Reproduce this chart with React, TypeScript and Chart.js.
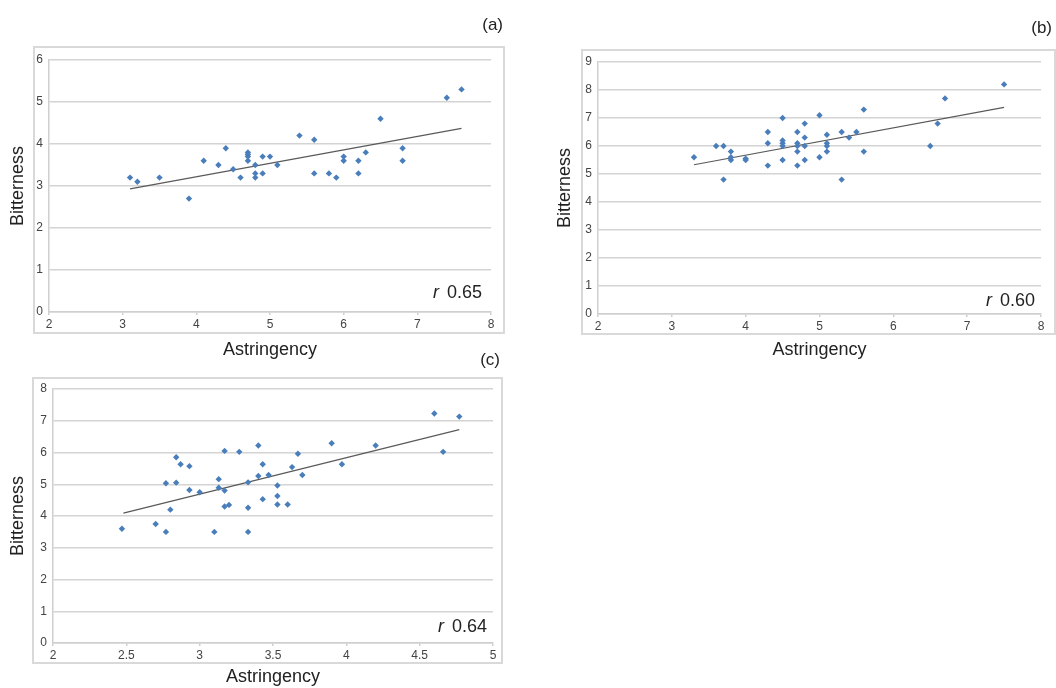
import React, { useEffect, useRef } from "react";
import { Chart, registerables } from "chart.js";

Chart.register(...registerables);

// ---------- Panel (a) ----------
const aAstringency = [3.1, 3.2, 3.5, 3.9, 4.1, 4.3, 4.4, 4.5, 4.6, 4.7, 4.7, 4.7, 4.7, 4.8, 4.8, 4.8, 4.9, 4.9, 5.0, 5.1, 5.4, 5.6, 5.6, 5.8, 5.9, 6.0, 6.0, 6.2, 6.2, 6.3, 6.5, 6.8, 6.8, 7.4, 7.6];
const aBitterness = [3.2, 3.1, 3.2, 2.7, 3.6, 3.5, 3.9, 3.4, 3.2, 3.8, 3.75, 3.7, 3.6, 3.5, 3.3, 3.2, 3.7, 3.3, 3.7, 3.5, 4.2, 4.1, 3.3, 3.3, 3.2, 3.7, 3.6, 3.6, 3.3, 3.8, 4.6, 3.9, 3.6, 5.1, 5.3];
const aTrendX = [3.1, 7.6];
const aTrendY = [2.93, 4.37];

// ---------- Panel (b) ----------
const bAstringency = [3.3, 3.6, 3.7, 3.7, 3.8, 3.8, 3.8, 4.0, 4.0, 4.3, 4.3, 4.3, 4.5, 4.5, 4.5, 4.5, 4.5, 4.7, 4.7, 4.7, 4.7, 4.7, 4.8, 4.8, 4.8, 4.8, 5.0, 5.0, 5.1, 5.1, 5.1, 5.1, 5.3, 5.3, 5.4, 5.5, 5.6, 5.6, 6.5, 6.6, 6.7, 7.5];
const bBitterness = [5.6, 6.0, 6.0, 4.8, 5.8, 5.6, 5.5, 5.5, 5.55, 6.5, 6.1, 5.3, 7.0, 6.2, 6.1, 6.0, 5.5, 6.5, 6.1, 6.0, 5.8, 5.3, 6.8, 6.3, 6.0, 5.5, 7.1, 5.6, 6.4, 6.1, 6.0, 5.8, 6.5, 4.8, 6.3, 6.5, 7.3, 5.8, 6.0, 6.8, 7.7, 8.2];
const bTrendX = [3.3, 7.5];
const bTrendY = [5.33, 7.38];

// ---------- Panel (c) ----------
const cAstringency = [2.47, 2.7, 2.77, 2.77, 2.8, 2.84, 2.84, 2.87, 2.93, 2.93, 3.0, 3.1, 3.13, 3.13, 3.17, 3.17, 3.17, 3.2, 3.27, 3.33, 3.33, 3.33, 3.4, 3.4, 3.43, 3.43, 3.47, 3.53, 3.53, 3.53, 3.6, 3.63, 3.67, 3.7, 3.9, 3.97, 4.2, 4.6, 4.66, 4.77];
const cBitterness = [3.6, 3.75, 3.5, 5.03, 4.2, 5.85, 5.05, 5.63, 5.57, 4.82, 4.75, 3.5, 5.16, 4.89, 6.05, 4.8, 4.3, 4.35, 6.02, 5.06, 4.26, 3.5, 6.22, 5.26, 5.63, 4.53, 5.29, 4.96, 4.63, 4.36, 4.36, 5.54, 5.96, 5.29, 6.29, 5.63, 6.22, 7.23, 6.02, 7.13];
const cTrendX = [2.48, 4.77];
const cTrendY = [4.09, 6.72];

const FONT = '"Liberation Sans", Arial, Helvetica, sans-serif';
const POINT_COLOR = "#4a7ebb";

type PanelProps = {
  left: number; top: number; width: number; height: number;
  xs: number[]; ys: number[]; tx: number[]; ty: number[];
  xMin: number; xMax: number; xStep: number;
  yMin: number; yMax: number; yStep: number;
  yW: number; xH: number; padTop: number; padRight: number;
  yTitlePad: number; xTitlePad: number;
  box: [number, number, number, number];
  tag: string; tagX: number; tagY: number;
  rText: string; rX: number; rY: number;
};

const fmt = (v: any) => String(Math.round(Number(v) * 100) / 100);

function Panel(p: PanelProps) {
  const ref = useRef<HTMLCanvasElement>(null);
  useEffect(() => {
    if (!ref.current) return;
    const deco = {
      id: "deco",
      beforeDraw(chart: any) {
        const ctx = chart.ctx;
        ctx.save();
        ctx.strokeStyle = "#d9d9d9";
        ctx.lineWidth = 2;
        ctx.strokeRect(p.box[0], p.box[1], p.box[2], p.box[3]);
        ctx.restore();
      },
      afterDraw(chart: any) {
        const ctx = chart.ctx;
        ctx.save();
        ctx.fillStyle = "#222";
        ctx.textBaseline = "middle";
        ctx.textAlign = "right";
        ctx.font = `17px ${FONT}`;
        ctx.fillText(p.tag, p.tagX, p.tagY);
        ctx.font = `18px ${FONT}`;
        ctx.fillText(p.rText, p.rX, p.rY);
        const w = ctx.measureText(p.rText).width;
        ctx.font = `italic 18px ${FONT}`;
        ctx.fillText("r", p.rX - w - 8, p.rY);
        ctx.restore();
      },
    };
    const chart = new Chart(ref.current, {
      type: "scatter",
      data: {
        datasets: [
          {
            label: "data",
            data: p.xs.map((x, i) => ({ x, y: p.ys[i] })),
            backgroundColor: POINT_COLOR,
            borderColor: POINT_COLOR,
            pointStyle: "rectRot",
            pointRadius: 3.2,
            borderWidth: 0,
          },
          {
            label: "trend",
            data: p.tx.map((x, i) => ({ x, y: p.ty[i] })),
            showLine: true,
            borderColor: "#5a5a5a",
            borderWidth: 1.2,
            pointRadius: 0,
          },
        ],
      },
      options: {
        animation: false,
        responsive: false,
        maintainAspectRatio: false,
        layout: { padding: { top: p.padTop, right: p.padRight, left: 0, bottom: 0 } },
        plugins: { legend: { display: false }, tooltip: { enabled: false } },
        scales: {
          x: {
            type: "linear",
            min: p.xMin,
            max: p.xMax,
            ticks: { stepSize: p.xStep, color: "#444", font: { family: FONT, size: 12 }, padding: 2, maxRotation: 0, callback: fmt },
            grid: { display: true, drawOnChartArea: false, drawTicks: true, tickLength: 3, color: "#cfcfcf", lineWidth: 1.5 },
            border: { display: true, color: "#cfcfcf", width: 1.5 },
            title: { display: true, text: "Astringency", color: "#222", font: { family: FONT, size: 18 }, padding: { top: 0, bottom: p.xTitlePad } },
            afterFit: (s: any) => { s.height = p.xH; },
          },
          y: {
            type: "linear",
            min: p.yMin,
            max: p.yMax,
            ticks: { stepSize: p.yStep, color: "#444", font: { family: FONT, size: 12 }, padding: 6, callback: fmt },
            grid: { display: true, drawOnChartArea: true, drawTicks: false, color: "#d4d4d4", lineWidth: 1.5 },
            border: { display: true, color: "#cfcfcf", width: 1.5 },
            title: { display: true, text: "Bitterness", color: "#222", font: { family: FONT, size: 18 }, padding: { top: p.yTitlePad, bottom: 0 } },
            afterFit: (s: any) => { s.width = p.yW; },
          },
        },
      },
      plugins: [deco],
    } as any);
    return () => chart.destroy();
  }, []);
  return (
    <canvas
      ref={ref}
      width={p.width}
      height={p.height}
      style={{ position: "absolute", left: p.left, top: p.top, width: p.width, height: p.height }}
    />
  );
}

export default function App() {
  return (
    <div style={{ position: "absolute", left: 0, top: 0, width: 1056, height: 688, background: "#fff", overflow: "hidden" }}>
      <Panel
        left={0} top={0} width={530} height={362}
        xs={aAstringency} ys={aBitterness} tx={aTrendX} ty={aTrendY}
        xMin={2} xMax={8} xStep={1} yMin={0} yMax={6} yStep={1}
        yW={49} xH={50} padTop={60} padRight={39} yTitlePad={7} xTitlePad={1}
        box={[34, 47, 470, 286]}
        tag="(a)" tagX={503} tagY={25}
        rText="0.65" rX={482} rY={293}
      />
      <Panel
        left={540} top={0} width={516} height={362}
        xs={bAstringency} ys={bBitterness} tx={bTrendX} ty={bTrendY}
        xMin={2} xMax={8} xStep={1} yMin={0} yMax={9} yStep={1}
        yW={58} xH={48} padTop={62} padRight={15} yTitlePad={14} xTitlePad={1}
        box={[42, 50, 473, 284]}
        tag="(b)" tagX={512} tagY={28}
        rText="0.60" rX={495} rY={301}
      />
      <Panel
        left={0} top={340} width={530} height={348}
        xs={cAstringency} ys={cBitterness} tx={cTrendX} ty={cTrendY}
        xMin={2} xMax={5} xStep={0.5} yMin={0} yMax={8} yStep={1}
        yW={53} xH={45} padTop={49} padRight={37} yTitlePad={7} xTitlePad={0}
        box={[33, 38, 469, 285]}
        tag="(c)" tagX={500} tagY={20}
        rText="0.64" rX={487} rY={287}
      />
    </div>
  );
}
